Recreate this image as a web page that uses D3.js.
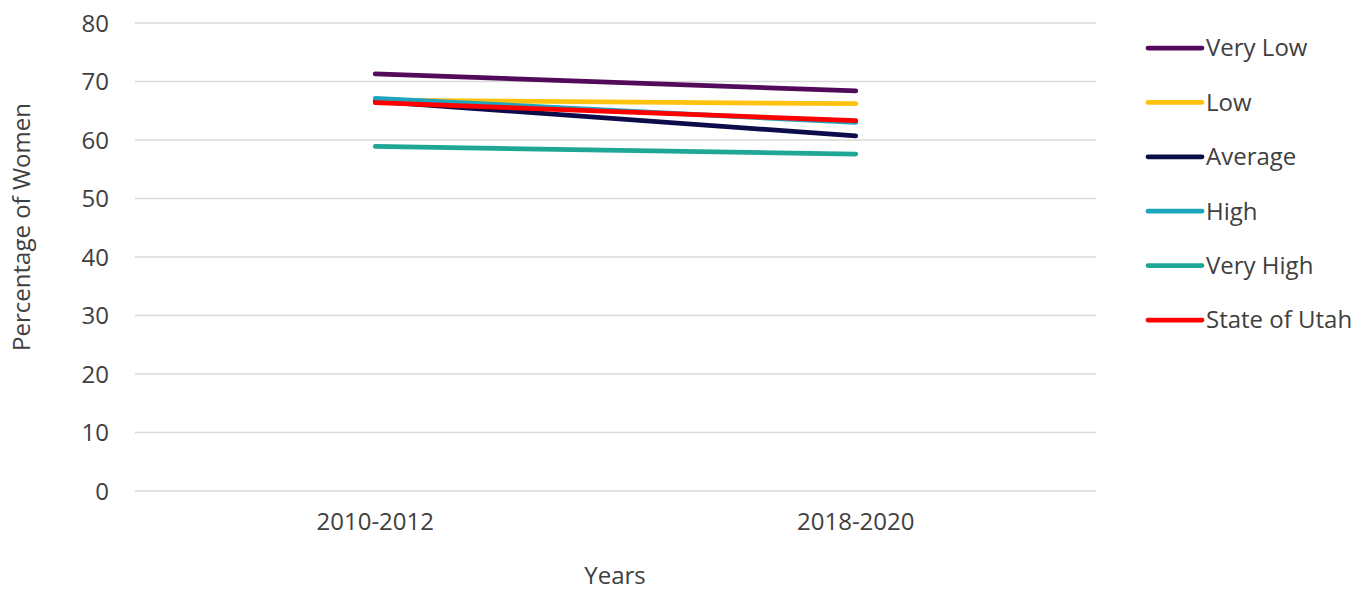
<!DOCTYPE html>
<html><head><meta charset="utf-8">
<script src="https://cdn.jsdelivr.net/npm/d3@7"></script>
<style>body{margin:0;background:#fff}svg{display:block}text{font-family:"Open Sans",sans-serif;fill:#404040}</style>
</head><body><svg id="c" width="1364" height="591"></svg>
<script>
const categories = ["2010-2012", "2018-2020"];
const seriesNames = ["Very Low", "Low", "Average", "High", "Very High", "State of Utah"];
const veryLow = [71.3, 68.4];
const low = [66.8, 66.2];
const average = [66.6, 60.7];
const high = [67.1, 63.0];
const veryHigh = [58.9, 57.6];
const stateOfUtah = [66.4, 63.3];
const yTicks = [0, 10, 20, 30, 40, 50, 60, 70, 80];
const colors = ["#520a5a", "#ffc20e", "#0c0c4a", "#1fa4bd", "#1fa695", "#ff0000"];

const series = [veryLow, low, average, high, veryHigh, stateOfUtah].map((v, i) => ({name: seriesNames[i], values: v, color: colors[i]}));

const svg = d3.select("#c");
const L = 135, R = 1096, T = 23, B = 491;
const FS = 24;
const x = d3.scaleBand().domain(categories).range([L, R]);
const y = d3.scaleLinear().domain([0, 80]).range([B, T]);

// gridlines
svg.append("g").selectAll("line").data(yTicks).join("line")
  .attr("x1", L).attr("x2", R).attr("y1", d => y(d)).attr("y2", d => y(d))
  .attr("stroke", "#d9d9d9").attr("stroke-width", 1.5);

// y axis labels
const yAxis = svg.append("g").attr("transform", `translate(${L - 26},0)`)
  .call(d3.axisLeft(y).tickValues(yTicks).tickSize(0).tickPadding(0));
yAxis.select(".domain").remove();
yAxis.selectAll("text").attr("font-size", FS).attr("fill", "#404040").attr("dy", "0.35em").style("font-family", "'Open Sans',sans-serif");

// x axis labels
const xAxis = svg.append("g").attr("transform", `translate(0,${B + 22})`)
  .call(d3.axisBottom(x).tickSize(0).tickPadding(0));
xAxis.select(".domain").remove();
xAxis.selectAll("text").attr("font-size", FS).attr("fill", "#404040").attr("dy", "0.7em").style("font-family", "'Open Sans',sans-serif");

// titles
svg.append("text").attr("x", 615).attr("y", 584).attr("text-anchor", "middle").attr("font-size", FS).text("Years");
svg.append("text").attr("transform", "translate(30,227) rotate(-90)").attr("text-anchor", "middle").attr("font-size", FS).text("Percentage of Women");

// lines
const line = d3.line().x((d, i) => x(categories[i]) + x.bandwidth() / 2).y(d => y(d));
svg.append("g").selectAll("path").data(series).join("path")
  .attr("d", d => line(d.values)).attr("fill", "none").attr("stroke", d => d.color)
  .attr("stroke-width", 4.75).attr("stroke-linecap", "round");

// legend
const lg = svg.append("g").selectAll("g").data(series).join("g")
  .attr("transform", (d, i) => `translate(1148,${48 + i * 54.4})`);
lg.append("line").attr("x1", 0).attr("x2", 54).attr("stroke", d => d.color).attr("stroke-width", 4.75).attr("stroke-linecap", "round");
lg.append("text").attr("x", 58).attr("dy", "0.35em").attr("font-size", FS).text(d => d.name);
</script></body></html>
